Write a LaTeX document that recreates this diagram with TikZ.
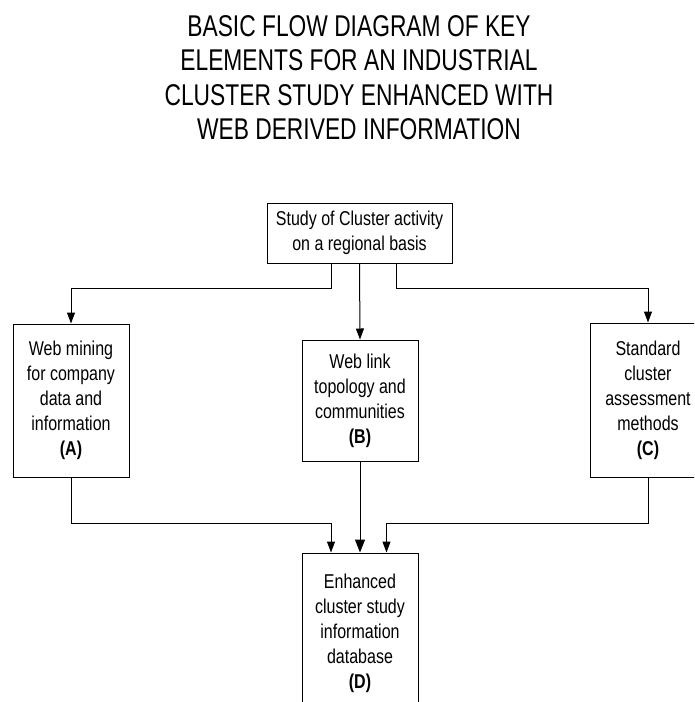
\documentclass[tikz,border=0pt]{standalone}
\usepackage{fontspec}
\setmainfont{Liberation Sans}[FakeStretch=0.8]
\newfontfamily\titlefont{Liberation Sans}[FakeStretch=0.76]
\usetikzlibrary{arrows.meta}
\tikzset{
  box/.style={draw=black, line width=1pt, fill=white, align=center, inner sep=0pt,
    minimum width=116pt, font=\fontsize{20}{25}\selectfont},
  conn/.style={draw=black, line width=1pt, -{Triangle[length=11pt,width=8pt]}},
  bigconn/.style={conn, -{Triangle[length=13pt,width=10pt]}},
  heading/.style={align=center, inner sep=0pt, font=\titlefont\fontsize{30}{34.5}\selectfont}
}
\begin{document}
\begin{tikzpicture}[x=1pt,y=-1pt]
  \useasboundingbox (0,0) rectangle (694,702);
  \clip (0,0) rectangle (694,702);

  % title
  \node[heading, anchor=north] (title) at (359,15)
    {BASIC FLOW DIAGRAM OF KEY\\ELEMENTS FOR AN INDUSTRIAL\\CLUSTER STUDY ENHANCED WITH\\WEB DERIVED INFORMATION};

  % boxes
  \node[box, minimum width=185pt, minimum height=60pt] (T) at (359.5,233)
    {Study of Cluster activity\\on a regional basis};
  \node[box, minimum height=153pt] (A) at (71,400.5)
    {Web mining\\for company\\data and\\information\\\textbf{(A)}};
  \node[box, minimum height=121pt] (B) at (360,400.5)
    {Web link\\topology and\\communities\\\textbf{(B)}};
  \node[box, minimum height=154pt] (C) at (648,400)
    {Standard\\cluster\\assessment\\methods\\\textbf{(C)}};
  \node[box, minimum height=160pt] (D) at (360,633)
    {Enhanced\\cluster study\\information\\database\\\textbf{(D)}};

  % connectors from the study box
  \draw[conn] ([xshift=-28.5pt]T.south) -- ++(0,25) -| (A.north);
  \draw[conn] (T.south) -- (B.north);
  \draw[conn] ([xshift=36.5pt]T.south) -- ++(0,25) -| (C.north);

  % connectors into the database box
  \draw[conn] (A.south) -- ++(0,46) -| ([xshift=-29pt]D.north);
  \draw[bigconn] (B.south) -- (D.north);
  \draw[conn] (C.south) -- ++(0,46) -| ([xshift=26.5pt]D.north);
\end{tikzpicture}
\end{document}
